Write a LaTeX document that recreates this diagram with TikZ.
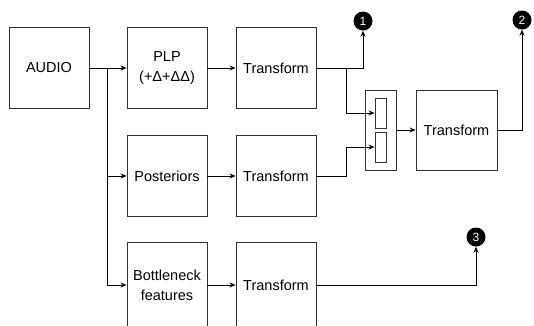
\documentclass[tikz,border=0pt]{standalone}
\usepackage{fontspec}
\setmainfont{Liberation Sans}
\usetikzlibrary{arrows.meta}

\tikzset{
  block/.style={draw=black!80, line width=0.9pt, minimum width=80pt, minimum height=81pt, inner sep=0pt, align=center, font=\fontsize{14.5}{20}\selectfont},
  slot/.style={draw=black!80, line width=0.9pt, minimum width=11pt, minimum height=30pt, inner sep=0pt},
  badge/.style={circle, fill=black, minimum size=19pt, inner sep=0pt, text=white, font=\fontsize{12}{12}\selectfont},
  link/.style={draw=black, line width=0.8pt, -{Stealth[length=6pt,width=5pt,inset=2pt]}},
}

\begin{document}
\begin{tikzpicture}[x=1pt,y=-1pt]
\useasboundingbox (0,0) rectangle (534,325);
% feature extraction
\node[block] (audio) at (49,68) {AUDIO};
\node[block] (plp) at (167,68) {PLP\\(+Δ+ΔΔ)};
\node[block] (post) at (167,176) {Posteriors};
\node[block, minimum height=85pt] (bott) at (167,285) {Bottleneck\\features};
% transforms
\node[block] (tra) at (276,68) {Transform};
\node[block] (trb) at (276,176) {Transform};
\node[block, minimum height=85pt] (trc) at (276,285) {Transform};
% concatenation
\node[block, minimum width=31pt, minimum height=80pt] (concat) at (381,130) {};
\node[slot] (slota) at (380.5,113) {};
\node[slot] (slotb) at (380.5,147) {};
\node[block, minimum width=81pt, minimum height=80pt] (trd) at (456.5,130) {Transform};
% outputs
\node[badge] (one) at (363,21) {1};
\node[badge] (two) at (522,20) {2};
\node[badge] (three) at (476,237) {3};
\coordinate (split) at (107,68);
\coordinate (joina) at (346,68);
\coordinate (joinb) at (346,176);
\draw[link] (audio.east) -- (plp.west);
\draw[link] (split) |- (post.west);
\draw[link] (split) |- (bott.west);
\draw[link] (plp.east) -- (tra.west);
\draw[link] (post.east) -- (trb.west);
\draw[link] (bott.east) -- (trc.west);
\draw[link] (tra.east) -| (one.south);
\draw[link] (joina) |- (slota.west);
\draw[link] (trb.east) -- (joinb) |- (slotb.west);
\draw[link] (concat.east) -- (trd.west);
\draw[link] (trd.east) -| (two.south);
\draw[link] (trc.east) -| (three.south);
\end{tikzpicture}
\end{document}
